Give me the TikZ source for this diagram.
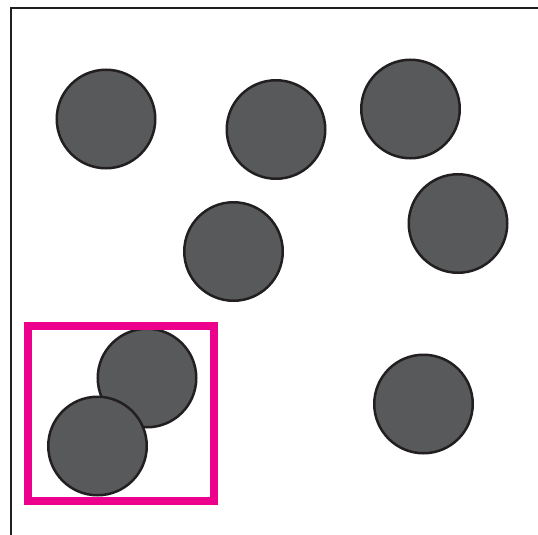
\documentclass[tikz,border=0pt]{standalone}
\definecolor{discfill}{HTML}{58595B}
\definecolor{discline}{HTML}{231F20}
\definecolor{boxpink}{HTML}{EC008C}
\begin{document}
\begin{tikzpicture}[x=1pt,y=-1pt,
  disc/.style={circle,draw=discline,fill=discfill,line width=2.5pt,minimum size=98.5pt,inner sep=0pt},
  frameline/.style={draw=discline,line width=2.6pt},
  selbox/.style={draw=boxpink,line width=8pt,minimum width=186pt,minimum height=175pt,inner sep=0pt}]
\useasboundingbox (0,0) rectangle (538,535);
\coordinate (tr) at (538,8);
\coordinate (tl) at (11,8);
\coordinate (bl) at (11,535);
\draw[frameline] (tr) -- (tl) -- (bl);
\node[disc] (c1) at (106,119) {};
\node[disc] (c2) at (276,129.5) {};
\node[disc] (c3) at (410.5,109) {};
\node[disc] (c4) at (233.5,251.5) {};
\node[disc] (c5) at (458,223.5) {};
\node[disc] (c8) at (423.5,404) {};
\node[disc] (c6) at (147,378) {};
\node[disc] (c7) at (97.5,446) {};
\node[selbox] (sel) at (121.25,413.5) {};
\end{tikzpicture}
\end{document}
